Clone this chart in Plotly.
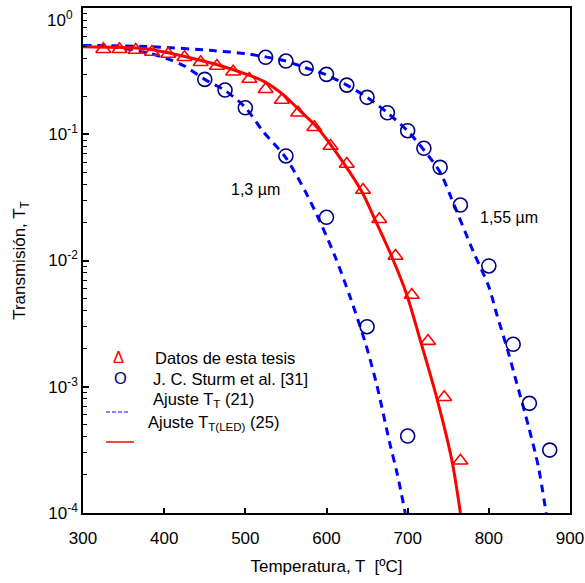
import plotly.graph_objects as go

# ---------------- data ----------------
# Datos de esta tesis (red open triangles)
tri_x = [325, 345, 365, 385, 405, 425, 445, 465, 485, 505, 525, 545, 565, 585,
         605, 625, 645, 665, 685, 705, 725, 745, 765]
tri_y = [0.471, 0.471, 0.465, 0.448, 0.432, 0.407, 0.372, 0.347, 0.313, 0.274,
         0.227, 0.187, 0.148, 0.1135, 0.0807, 0.0581, 0.0362, 0.0212, 0.01086,
         0.00533, 0.00230, 0.000825, 0.000259]

# J. C. Sturm et al. [31], 1,3 um (navy open circles)
c13_x = [450, 475, 500, 550, 600, 650, 700]
c13_y = [0.272, 0.224, 0.162, 0.0673, 0.0220, 0.00299, 0.000407]

# J. C. Sturm et al. [31], 1,55 um (navy open circles)
c155_x = [525, 550, 575, 600, 625, 650, 675, 700, 720, 740, 765, 800, 830, 850, 875]
c155_y = [0.407, 0.380, 0.333, 0.298, 0.245, 0.196, 0.148, 0.1067, 0.0774,
          0.0547, 0.0275, 0.00905, 0.00217, 0.000739, 0.000315]

# Ajuste T_T(LED) (25) - red solid curve
fit_led_x = [300, 337, 379, 420, 460, 504, 524.5, 547, 567.6, 588, 617, 643.6,
             660, 680.5, 699, 715.4, 736, 754.4, 765]
fit_led_y = [0.494, 0.489, 0.473, 0.421, 0.363, 0.294, 0.259, 0.205, 0.153,
             0.114, 0.0645, 0.0351, 0.0209, 0.0107, 0.00533, 0.00235, 0.00081,
             0.000263, 0.0001]

# Ajuste T_T (21) - blue dashed curves, 1,3 um and 1,55 um
fit13_x = [300, 340, 380, 405, 425, 450, 475, 500, 522, 550, 574, 592, 610.7,
           629, 648, 662, 678, 687, 697]
fit13_y = [0.505, 0.49, 0.44, 0.394, 0.347, 0.272, 0.222, 0.163, 0.105, 0.065,
           0.0351, 0.0203, 0.0107, 0.00516, 0.00221, 0.00103, 0.000356,
           0.000206, 0.0001]

fit155_x = [300, 380, 460, 500, 525, 550, 575, 600, 625, 650, 675, 700, 720,
            740, 754, 781, 800, 810, 822, 834.5, 849, 861, 870.6]
fit155_y = [0.505, 0.495, 0.46, 0.435, 0.41, 0.38, 0.335, 0.295, 0.245, 0.196,
            0.148, 0.106, 0.075, 0.050, 0.031, 0.0117, 0.0062, 0.0037, 0.00207,
            0.00106, 0.000483, 0.000233, 0.0001]

ytick_vals = [1e-4, 1e-3, 1e-2, 1e-1, 1e0]
ytick_text = ["10<sup>-4</sup>", "10<sup>-3</sup>", "10<sup>-2</sup>",
              "10<sup>-1</sup>", ""]
top_tick_label = "10<sup>0</sup>"

# ---------------- figure ----------------
W, H = 585, 583
ML, MR, MT, MB = 83, 15, 8, 70
PW, PH = W - ML - MR, H - MT - MB


def px(xp):
    return (xp - ML) / PW


def py(yp):
    return (H - MB - yp) / PH


FONT = "Liberation Sans, Arial, sans-serif"
RED = "#FF0000"
BLUE = "#0000FF"
NAVY = "#000080"
LEG = 16.5

fig = go.Figure()

fig.add_trace(go.Scatter(x=fit13_x, y=fit13_y, mode="lines",
                         line=dict(color=BLUE, width=3, dash="8px,6px",
                                   shape="spline", smoothing=0.8),
                         showlegend=False, hoverinfo="skip"))
fig.add_trace(go.Scatter(x=fit155_x, y=fit155_y, mode="lines",
                         line=dict(color=BLUE, width=3, dash="8px,6px",
                                   shape="spline", smoothing=0.8),
                         showlegend=False, hoverinfo="skip"))
fig.add_trace(go.Scatter(x=fit_led_x, y=fit_led_y, mode="lines",
                         line=dict(color=RED, width=3, shape="spline",
                                   smoothing=0.8),
                         showlegend=False, hoverinfo="skip"))

fig.add_trace(go.Scatter(x=c13_x, y=c13_y, mode="markers",
                         marker=dict(symbol="circle-open", size=14,
                                     color=NAVY, line=dict(width=1.6, color=NAVY)),
                         showlegend=False))
fig.add_trace(go.Scatter(x=c155_x, y=c155_y, mode="markers",
                         marker=dict(symbol="circle-open", size=14,
                                     color=NAVY, line=dict(width=1.6, color=NAVY)),
                         showlegend=False))
fig.add_trace(go.Scatter(x=tri_x, y=tri_y, mode="markers",
                         marker=dict(symbol="triangle-up-open", size=13,
                                     color=RED, line=dict(width=1.6, color=RED)),
                         showlegend=False))

annotations = [
    dict(x=512, y=-1.434, xref="x", yref="y", text="1,3 µm", showarrow=False,
         font=dict(size=16, color="black", family=FONT)),
    dict(x=825, y=-1.663, xref="x", yref="y", text="1,55 µm", showarrow=False,
         font=dict(size=16, color="black", family=FONT)),
    # top y tick label (drawn lower than the tick, as in the original)
    dict(x=px(75), y=py(19), xref="paper", yref="paper", xanchor="right",
         yanchor="middle", text=top_tick_label, showarrow=False,
         font=dict(size=17, color="black", family=FONT)),
    # legend symbols
    dict(x=px(111), y=py(368), xref="paper", yref="paper", text="Δ",
         showarrow=False, font=dict(size=LEG, color=RED, family=FONT)),
    dict(x=px(112), y=py(389), xref="paper", yref="paper", text="O",
         showarrow=False, font=dict(size=LEG, color=NAVY, family=FONT)),
    # legend texts
    dict(x=px(153), y=py(369), xref="paper", yref="paper", xanchor="left",
         text="Datos de esta tesis", showarrow=False,
         font=dict(size=LEG, color="black", family=FONT)),
    dict(x=px(151), y=py(390), xref="paper", yref="paper", xanchor="left",
         text="J. C. Sturm et al. [31]", showarrow=False,
         font=dict(size=LEG, color="black", family=FONT)),
    dict(x=px(151), y=py(412), xref="paper", yref="paper", xanchor="left",
         text="Ajuste T<sub>T</sub> (21)", showarrow=False,
         font=dict(size=LEG, color="black", family=FONT)),
    dict(x=px(146), y=py(435), xref="paper", yref="paper", xanchor="left",
         text="Ajuste T<sub>T(LED)</sub> (25)", showarrow=False,
         font=dict(size=LEG, color="black", family=FONT)),
]

shapes = [
    dict(type="line", xref="paper", yref="paper", x0=px(106), x1=px(128),
         y0=py(412), y1=py(412), line=dict(color=BLUE, width=1.2, dash="4px,2px")),
    dict(type="line", xref="paper", yref="paper", x0=px(106), x1=px(134),
         y0=py(442), y1=py(442), line=dict(color=RED, width=1.5)),
]

minor_vals = [m * 10 ** e for e in range(-4, 0) for m in range(2, 10)]

fig.update_layout(
    width=W, height=H,
    margin=dict(l=ML, r=MR, t=MT, b=MB, autoexpand=False),
    paper_bgcolor="white", plot_bgcolor="white",
    font=dict(family=FONT, size=16, color="black"),
    annotations=annotations, shapes=shapes,
    xaxis=dict(range=[300, 900], dtick=100, tick0=300, showgrid=False,
               zeroline=False, showline=True, linecolor="black", linewidth=1.6,
               mirror=True, ticks="inside", ticklen=5, tickwidth=1.6,
               tickcolor="black", tickfont=dict(size=17, family=FONT),
               ticklabelstandoff=9,
               title=dict(text="Temperatura, T  [ºC]", standoff=13,
                          font=dict(size=17, family=FONT))),
    yaxis=dict(type="log", range=[-4, 0], tickmode="array",
               tickvals=ytick_vals, ticktext=ytick_text, showgrid=False,
               zeroline=False, showline=True, linecolor="black", linewidth=1.6,
               mirror=True, ticks="inside", ticklen=6, tickwidth=1.6,
               tickcolor="black", tickfont=dict(size=17, family=FONT),
               minor=dict(tickmode="array", tickvals=minor_vals,
                          ticks="inside", ticklen=4, tickwidth=1.3,
                          tickcolor="black", showgrid=False),
               title=dict(text="Transmisión, T<sub>T</sub>", standoff=18,
                          font=dict(size=17, family=FONT))),
)

fig.write_html("out.html", config={"displayModeBar": False},
               post_script="document.body.style.margin='0px';")
